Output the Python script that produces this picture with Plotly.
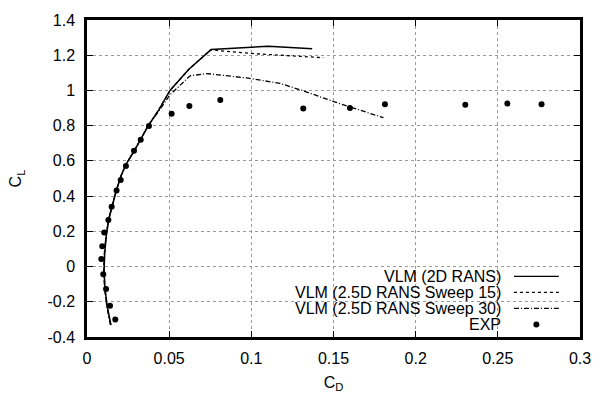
import plotly.graph_objects as go

# ---- data ----
vlm2d_cd = [0.0146, 0.0122, 0.0109, 0.0104, 0.0108, 0.0118, 0.0133, 0.0155, 0.0178, 0.0205,
            0.0237, 0.0283, 0.0325, 0.0373, 0.0437, 0.0505, 0.0620, 0.0755, 0.1103, 0.1370]
vlm2d_cl = [-0.333, -0.22, -0.12, -0.02, 0.08, 0.18, 0.27, 0.35, 0.43, 0.51,
            0.58, 0.65, 0.72, 0.80, 0.89, 1.00, 1.12, 1.232, 1.251, 1.237]

sw15_cd = [0.0144, 0.0121, 0.0108, 0.0103, 0.0107, 0.0117, 0.0132, 0.0154, 0.0178, 0.0205,
           0.0237, 0.0283, 0.0325, 0.0373, 0.0437, 0.0505, 0.0620, 0.0755, 0.0800, 0.1050, 0.1438]
sw15_cl = [-0.33, -0.22, -0.12, -0.02, 0.08, 0.18, 0.27, 0.35, 0.43, 0.51,
           0.58, 0.65, 0.72, 0.80, 0.89, 1.00, 1.12, 1.232, 1.226, 1.207, 1.186]

sw30_cd = [0.0142, 0.0120, 0.0107, 0.0102, 0.0106, 0.0116, 0.0131, 0.0154, 0.0178, 0.0205,
           0.0237, 0.0283, 0.0325, 0.0373, 0.0442, 0.0505, 0.0627, 0.0728, 0.0972, 0.1175,
           0.1316, 0.1500, 0.1804]
sw30_cl = [-0.33, -0.22, -0.12, -0.02, 0.08, 0.18, 0.27, 0.35, 0.43, 0.51,
           0.58, 0.65, 0.72, 0.80, 0.89, 0.975, 1.083, 1.096, 1.071, 1.040,
           0.998, 0.937, 0.845]

exp_cd = [0.0172, 0.0140, 0.0116, 0.0099, 0.0087, 0.0093, 0.0105, 0.0130, 0.0150, 0.0180,
          0.0205, 0.0237, 0.0286, 0.0327, 0.0377, 0.0515, 0.0623, 0.0811, 0.1316, 0.1600,
          0.1813, 0.2302, 0.2558, 0.2766]
exp_cl = [-0.301, -0.223, -0.127, -0.044, 0.043, 0.115, 0.193, 0.264, 0.340, 0.432,
          0.491, 0.571, 0.658, 0.720, 0.798, 0.868, 0.912, 0.946, 0.897, 0.901,
          0.921, 0.919, 0.926, 0.921]

legend_names = ["VLM (2D RANS)", "VLM (2.5D RANS Sweep 15)", "VLM (2.5D RANS Sweep 30)", "EXP"]

x_ticks = [0, 0.05, 0.1, 0.15, 0.2, 0.25, 0.3]
x_ticktext = ["0", "0.05", "0.1", "0.15", "0.2", "0.25", "0.3"]
y_ticks = [-0.4, -0.2, 0, 0.2, 0.4, 0.6, 0.8, 1.0, 1.2, 1.4]
y_ticktext = ["-0.4", "-0.2", "0", "0.2", "0.4", "0.6", "0.8", "1", "1.2", "1.4"]

FONT = "Liberation Sans, Arial, sans-serif"
FS = 16
DASHDOT = "5px,2px,1px,2px"

fig = go.Figure()
fig.add_trace(go.Scatter(x=vlm2d_cd, y=vlm2d_cl, mode="lines", name=legend_names[0],
                         line=dict(color="black", width=1.5)))
fig.add_trace(go.Scatter(x=sw15_cd, y=sw15_cl, mode="lines", name=legend_names[1],
                         line=dict(color="black", width=1.3, dash="dot")))
fig.add_trace(go.Scatter(x=sw30_cd, y=sw30_cl, mode="lines", name=legend_names[2],
                         line=dict(color="black", width=1.3, dash=DASHDOT)))
fig.add_trace(go.Scatter(x=exp_cd, y=exp_cl, mode="markers", name=legend_names[3],
                         marker=dict(color="black", size=6)))

# custom gnuplot-style legend (text right, sample left)
rows_y = [0.1913, 0.1407, 0.0904, 0.0398]
text_x = 0.8438
samp_x0, samp_x1 = 0.866, 0.957
dashes = ["solid", "dot", DASHDOT]
for i, name in enumerate(legend_names):
    fig.add_annotation(x=text_x, y=rows_y[i], xref="paper", yref="paper", text=name,
                       showarrow=False, xanchor="right", yanchor="middle",
                       font=dict(family=FONT, size=FS, color="black"))
    if i < 3:
        fig.add_shape(type="line", xref="paper", yref="paper",
                      x0=samp_x0, x1=samp_x1, y0=rows_y[i], y1=rows_y[i],
                      line=dict(color="black", width=1.3, dash=dashes[i]))
    else:
        fig.add_shape(type="circle", xref="paper", yref="paper",
                      xsizemode="pixel", ysizemode="pixel",
                      xanchor=(samp_x0 + samp_x1) / 2, yanchor=rows_y[i],
                      x0=-3, x1=3, y0=-3, y1=3,
                      fillcolor="black", line=dict(color="black", width=0))

axis_common = dict(
    showgrid=True, gridcolor="#9a9a9a", griddash="dot", gridwidth=1,
    showline=True, linecolor="black", linewidth=2.5, mirror="ticks",
    ticks="inside", ticklen=6, tickcolor="black", tickwidth=1,
    zeroline=False,
    tickfont=dict(family=FONT, size=FS, color="black"),
)

fig.update_xaxes(range=[0, 0.3], tickvals=x_ticks, ticktext=x_ticktext,
                 title=dict(text="C<sub>D</sub>", font=dict(family=FONT, size=FS, color="black"),
                            standoff=11),
                 ticklabelstandoff=5, **axis_common)
fig.update_yaxes(range=[-0.4, 1.4], tickvals=y_ticks, ticktext=y_ticktext,
                 title=dict(text="C<sub>L</sub>", font=dict(family=FONT, size=FS, color="black"),
                            standoff=22),
                 ticklabelstandoff=6, **axis_common)

fig.update_layout(
    width=603, height=401,
    margin=dict(l=87, r=23, t=13, b=56),
    paper_bgcolor="white", plot_bgcolor="white",
    showlegend=False,
    font=dict(family=FONT, size=FS, color="black"),
)

fig.write_html("out.html")
